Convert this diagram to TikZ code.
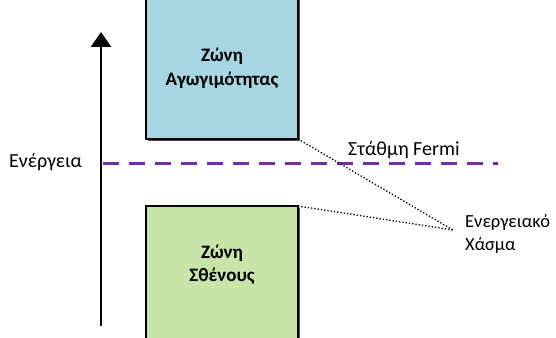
\documentclass[tikz,border=0pt]{standalone}
\usepackage{fontspec}
\setmainfont{Carlito}
\usetikzlibrary{arrows.meta}
\definecolor{condblue}{HTML}{A8D5E2}
\definecolor{valgreen}{HTML}{C8E4A8}
\definecolor{fermipurple}{HTML}{7030A0}
\tikzset{
  band/.style={draw=black, line width=1.6pt},
  bandlabel/.style={font=\bfseries\fontsize{19}{23}\selectfont, anchor=base},
  plainlabel/.style={font=\fontsize{20}{24}\selectfont, anchor=base west, inner sep=0pt},
  gaplabel/.style={plainlabel, font=\fontsize{18.5}{23}\selectfont},
  guide/.style={dotted, line width=1.3pt},
}
\begin{document}
\begin{tikzpicture}[x=1pt,y=-1pt]
\useasboundingbox (0,0) rectangle (556,337);
% conduction band (runs off the top edge)
\fill[black!70] (148,-5) rectangle (300,141);
\filldraw[band, fill=condblue] (146,-5) rectangle (298,139);
\coordinate (cbcorner) at (298,139);
\node[bandlabel] (cb1) at (222,62) {Ζώνη};
\node[bandlabel] (cb2) at (222,85) {Αγωγιμότητας};
% valence band (runs off the bottom edge)
\fill[black!70] (148,208) rectangle (300,345);
\filldraw[band, fill=valgreen] (146,206) rectangle (298,345);
\coordinate (vbcorner) at (298,206);
\node[bandlabel] (vb1) at (222,258) {Ζώνη};
\node[bandlabel] (vb2) at (222,281) {Σθένους};
% energy axis
\coordinate (axbot) at (101,326);
\coordinate (axtop) at (101,32);
\draw[line width=2.6pt, -{Triangle[length=15pt,width=20pt]}] (axbot) -- (axtop);
\node[plainlabel] (energy) at (9,167) {Ενέργεια};
% Fermi level
\coordinate (fermiL) at (103,163);
\coordinate (fermiR) at (498,163);
\draw[fermipurple, line width=3pt, dash pattern=on 16pt off 10pt] (fermiL) -- (fermiR);
\node[plainlabel] (fermi) at (348,155) {Στάθμη Fermi};
% band gap label and guides
\node[gaplabel] (gap1) at (465,227) {Ενεργειακό};
\node[gaplabel] (gap2) at (465,250) {Χάσμα};
\coordinate (gapend) at (453,230);
\draw[guide] (cbcorner) -- (gapend);
\draw[guide] (vbcorner) -- (gapend);
\end{tikzpicture}
\end{document}
